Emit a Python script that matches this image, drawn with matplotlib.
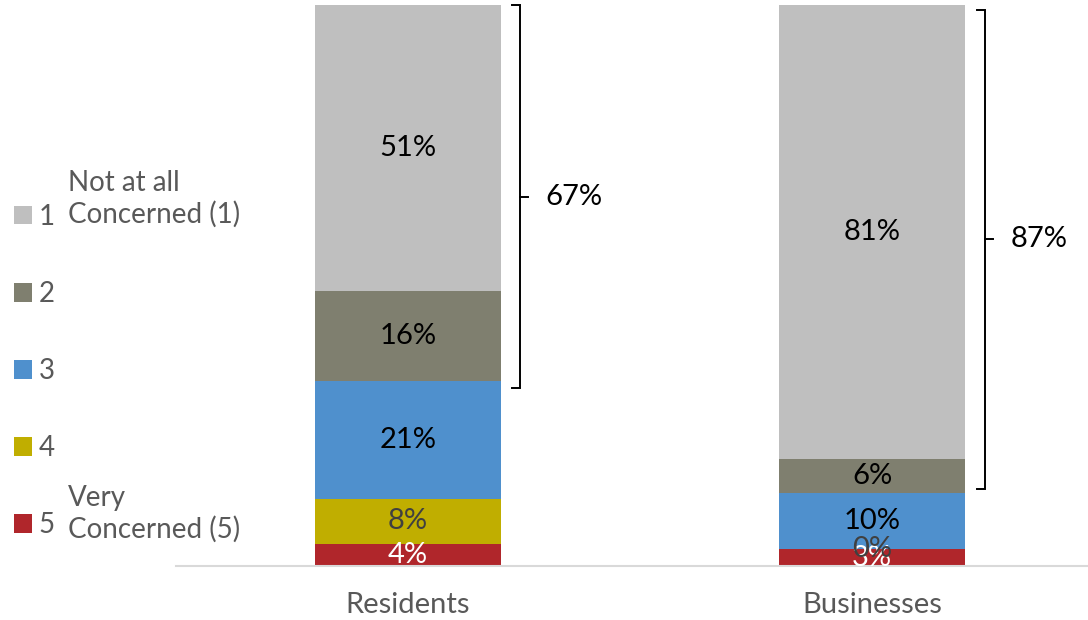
import numpy as np
import matplotlib
matplotlib.use("Agg")
import matplotlib.pyplot as plt
from matplotlib.patches import Patch

plt.rcParams['font.family'] = ['Lato', 'DejaVu Sans']

groups = ["Residents", "Businesses"]
levels = ["1", "2", "3", "4", "5"]
# share of answers per concern level, bottom of stack is level 5
level5 = [4, 3]
level4 = [8, 0]
level3 = [21, 10]
level2 = [16, 6]
level1 = [51, 81]
top_two = [67, 87]

colors = {"1": "#BFBFBF", "2": "#7F7F6F", "3": "#4F90CD", "4": "#C0AE00", "5": "#B0262B"}
label_colors = {"1": "black", "2": "black", "3": "black", "4": "#404040", "5": "white"}

fig = plt.figure(figsize=(10.88, 6.2), dpi=100)
ax = fig.add_axes([176/1088, 54/620, 912/1088, 561/620])

x = np.arange(len(groups))
stack = {"5": level5, "4": level4, "3": level3, "2": level2, "1": level1}
bottom = np.zeros(len(groups))
for lev in ["5", "4", "3", "2", "1"]:
    vals = np.array(stack[lev], dtype=float)
    ax.bar(x, vals, width=0.4, bottom=bottom, color=colors[lev])
    for xi, b, v in zip(x, bottom, vals):
        ax.text(xi, b + v / 2, f"{int(v)}%", ha="center", va="center",
                fontsize=21, color=label_colors[lev])
    bottom += vals

# brackets for the top-two-box share
brackets = [(0.241, 31.7, 100.0, 65.8), (1.2435, 13.7, 99.1, 58.3)]
for (bx, y0, y1, ym), val in zip(brackets, top_two):
    ax.plot([bx - 0.017, bx, bx, bx - 0.017], [y0, y0, y1, y1], color="black", lw=1.4,
            clip_on=False, solid_joinstyle="miter")
    ax.plot([bx, bx + 0.017], [ym, ym], color="black", lw=1.4, clip_on=False)
    ax.text(bx + 0.055, ym, f"{val}%", ha="left", va="center", fontsize=21, color="black")

ax.set_xlim(-0.5, 1.4655)
ax.set_ylim(0, 100)
ax.set_xticks(x)
ax.set_xticklabels(groups, fontsize=21, color="#595959")
ax.tick_params(axis="x", length=0, pad=19)
ax.set_yticks([])
for s in ["top", "right", "left"]:
    ax.spines[s].set_visible(False)
ax.spines["bottom"].set_color("#D9D9D9")
ax.spines["bottom"].set_linewidth(1.5)

handles = [Patch(facecolor=colors[l]) for l in levels]
leg = fig.legend(handles, levels, loc="upper left", bbox_to_anchor=(0.0, 1 - 190/620),
                 frameon=False, fontsize=20, labelcolor="#595959", handlelength=0.65,
                 handleheight=0.65, handletextpad=0.25, labelspacing=1.84, borderpad=0.0)

fig.text(68/1088, 1 - 199/620, "Not at all\nConcerned (1)", ha="left", va="center",
         fontsize=20, color="#595959", linespacing=1.2)
fig.text(68/1088, 1 - 514/620, "Very\nConcerned (5)", ha="left", va="center",
         fontsize=20, color="#595959", linespacing=1.2)

fig.savefig("out.png", dpi=100)
